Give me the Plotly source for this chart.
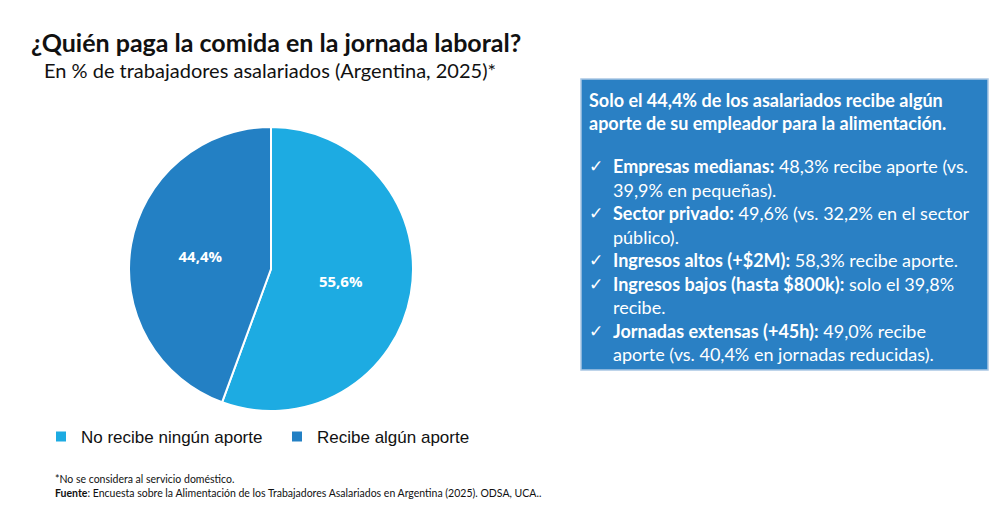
import plotly.graph_objects as go

categories = ["No recibe ningún aporte", "Recibe algún aporte"]
values = [55.6, 44.4]
colors = ["#1DABE2", "#2380C4"]

title = "¿Quién paga la comida en la jornada laboral?"
subtitle = "En % de trabajadores asalariados (Argentina, 2025)*"
box_header = ["Solo el 44,4% de los asalariados recibe algún",
              "aporte de su empleador para la alimentación."]
bullets = [
    ("Empresas medianas:", " 48,3% recibe aporte (vs.", ["39,9% en pequeñas)."]),
    ("Sector privado:", " 49,6% (vs. 32,2% en el sector", ["público)."]),
    ("Ingresos altos (+$2M):", " 58,3% recibe aporte.", []),
    ("Ingresos bajos (hasta $800k):", " solo el 39,8%", ["recibe."]),
    ("Jornadas extensas (+45h):", " 49,0% recibe", ["aporte (vs. 40,4% en jornadas reducidas)."]),
]
footnote1 = "*No se considera al servicio doméstico."
footnote2 = "<b>Fuente</b>: Encuesta sobre la Alimentación de los Trabajadores Asalariados en Argentina (2025). ODSA, UCA.."

W, H = 1000, 532
OFF = 8  # page body margin
def px(x): return (x - OFF) / W
def py(y): return 1 - (y - OFF) / H

fig = go.Figure(go.Pie(
    labels=categories, values=values,
    marker=dict(colors=colors, line=dict(color="white", width=2)),
    sort=False, direction="clockwise", rotation=0,
    texttemplate="%{value:.1f}%",
    textposition="inside", insidetextorientation="horizontal",
    textfont=dict(family="Open Sans", size=15, color="white", weight="bold"),
    domain=dict(x=[px(128), px(414)], y=[py(411), py(127)]),
    hoverinfo="label+percent",
))

ann = []
ann.append(dict(x=px(29), y=py(42), text=f"<b>{title}</b>", showarrow=False,
                xanchor="left", yanchor="middle",
                font=dict(family="Lato", size=25, color="#111111")))
ann.append(dict(x=px(42), y=py(70), text=subtitle, showarrow=False,
                xanchor="left", yanchor="middle",
                font=dict(family="Lato", size=20, color="#111111")))

fs = 18
ff = "Lato"
y = 100
for line in box_header:
    ann.append(dict(x=px(587), y=py(y), text=f"<b>{line}</b>", showarrow=False,
                    xanchor="left", yanchor="middle",
                    font=dict(family=ff, size=fs, color="white")))
    y += 22.5
y = 166
for bold, rest, extra in bullets:
    ann.append(dict(x=px(587), y=py(y), text="✓", showarrow=False,
                    xanchor="left", yanchor="middle",
                    font=dict(family="DejaVu Sans", size=17, color="white")))
    ann.append(dict(x=px(611), y=py(y), text=f"<b>{bold}</b>{rest}", showarrow=False,
                    xanchor="left", yanchor="middle",
                    font=dict(family=ff, size=fs, color="white")))
    y += 23.5
    for e in extra:
        ann.append(dict(x=px(611), y=py(y), text=e, showarrow=False,
                        xanchor="left", yanchor="middle",
                        font=dict(family=ff, size=fs, color="white")))
        y += 23.5

ann.append(dict(x=px(53), y=py(479), text=footnote1, showarrow=False,
                xanchor="left", yanchor="middle",
                font=dict(family="Lato", size=10.5, color="#111111")))
ann.append(dict(x=px(53), y=py(493), text=footnote2, showarrow=False,
                xanchor="left", yanchor="middle",
                font=dict(family="Lato", size=10.5, color="#111111")))

fig.update_layout(
    width=W, height=H,
    separators=",.",
    margin=dict(l=0, r=0, t=0, b=0),
    paper_bgcolor="white", plot_bgcolor="white",
    annotations=ann,
    shapes=[dict(type="rect", xref="paper", yref="paper",
                 x0=px(581), x1=px(988), y0=py(370), y1=py(79),
                 fillcolor="#2A80C4", line=dict(color="#A9C6E3", width=1.5),
                 layer="below")],
    showlegend=True,
    legend=dict(orientation="h", x=px(41), y=py(437), xanchor="left", yanchor="middle",
                font=dict(family="Liberation Sans", size=17, color="#111111"),
                itemwidth=30, entrywidth=191, entrywidthmode="pixels"),
)

fig.write_html("out.html")
